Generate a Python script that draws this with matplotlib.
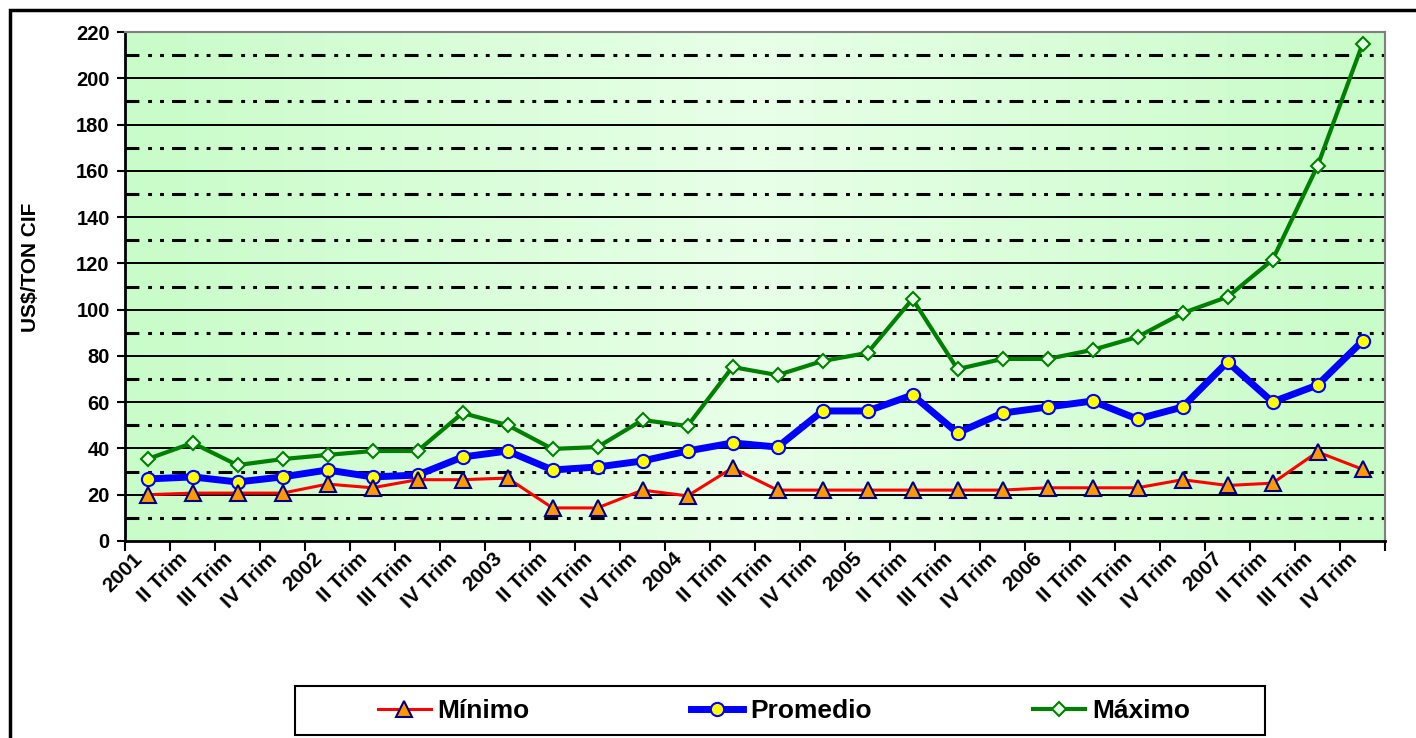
import matplotlib
matplotlib.use("Agg")
import matplotlib.pyplot as plt
import matplotlib.transforms as mtransforms
from matplotlib.patches import Rectangle
from matplotlib.colors import LinearSegmentedColormap
import numpy as np

plt.rcParams['font.family'] = ['Liberation Sans', 'DejaVu Sans']
plt.rcParams['font.weight'] = 'bold'

categories = ["2001", "II Trim", "III Trim", "IV Trim",
              "2002", "II Trim", "III Trim", "IV Trim",
              "2003", "II Trim", "III Trim", "IV Trim",
              "2004", "II Trim", "III Trim", "IV Trim",
              "2005", "II Trim", "III Trim", "IV Trim",
              "2006", "II Trim", "III Trim", "IV Trim",
              "2007", "II Trim", "III Trim", "IV Trim"]

minimo = [20, 20.7, 20.7, 20.7, 24.6, 23, 26.5, 26.5, 27.2, 14.3, 14.3, 22,
          19.5, 31.6, 22, 22, 22, 22, 22, 22, 23, 23, 23, 26.5,
          24, 25, 38.5, 31]
promedio = [26.8, 27.7, 25.5, 27.7, 30.7, 27.7, 28.5, 36.3, 38.9, 30.7, 32.0, 34.6,
            38.9, 42.4, 40.6, 56.2, 56.2, 63.1, 46.7, 55.3, 57.9, 60.5, 52.7, 57.9,
            77.4, 60.1, 67.4, 86.4]
maximo = [35.4, 42.4, 32.8, 35.4, 37.2, 38.9, 38.9, 55.3, 50.1, 39.8, 40.6, 52.3,
          49.7, 75.2, 71.7, 77.8, 81.3, 104.6, 74.3, 78.7, 78.7, 82.6, 88.2, 98.5,
          105.5, 121.5, 162.1, 214.8]

series_names = ["Mínimo", "Promedio", "Máximo"]
y_label = "US$/TON CIF"

W, H = 1416, 738
fig = plt.figure(figsize=(W / 100, H / 100), dpi=100)
fig.patch.set_facecolor('white')

# outer chart border (clipped on right/bottom like reference)
fig.add_artist(Rectangle((10 / W, -0.05), 1.2, (H - 10) / H + 0.05,
                         transform=fig.transFigure, fill=False,
                         edgecolor='black', linewidth=2.5, zorder=0))

ax = fig.add_axes([125 / W, (H - 541) / H, (1385 - 125) / W, (541 - 32) / H])

n = len(categories)
x = np.arange(n)
ax.set_xlim(-0.5, n - 0.5)
ax.set_ylim(0, 220)

# gradient background: green edges, lighter center
cmap = LinearSegmentedColormap.from_list('g', ['#c8fcc8', '#e8ffe8', '#c8fcc8'])
grad = np.linspace(0, 1, 256).reshape(1, -1)
ax.imshow(grad, extent=[-0.5, n - 0.5, 0, 220], aspect='auto', cmap=cmap,
          zorder=0, interpolation='bicubic')

# gridlines
for v in range(20, 221, 20):
    ax.axhline(v, color='black', linewidth=1.4, zorder=1)
for v in range(10, 220, 20):
    ax.axhline(v, color='black', linewidth=2.2, zorder=1,
               linestyle=(0, (10.0 / 2.2, 6.3 / 2.2, 2.8 / 2.2, 5.8 / 2.2, 2.8 / 2.2, 5.8 / 2.2)))

ax.plot(x, minimo, color='#ff0000', linewidth=2.2, marker='^', markersize=12,
        markerfacecolor='#ff9900', markeredgecolor='#000080', markeredgewidth=1.5,
        zorder=4, label=series_names[0])
ax.plot(x, promedio, color='#0000ff', linewidth=5.0, marker='o', markersize=9.5,
        markerfacecolor='#ffff00', markeredgecolor='#0000ff', markeredgewidth=1.5,
        zorder=3, label=series_names[1])
ax.plot(x, maximo, color='#008000', linewidth=3.0, marker='D', markersize=7.5,
        markerfacecolor='#e6ffe6', markeredgecolor='#008000', markeredgewidth=1.5,
        zorder=2, label=series_names[2])

# axes styling
for s in ['top', 'right']:
    ax.spines[s].set_color('#808080')
    ax.spines[s].set_linewidth(1.5)
for s in ['left', 'bottom']:
    ax.spines[s].set_color('black')
    ax.spines[s].set_linewidth(2.0)

ax.set_yticks(range(0, 221, 20))
ax.tick_params(axis='y', direction='out', length=6, width=1.5, labelsize=14.5, pad=5)
ax.set_xticks(np.arange(-0.5, n, 1.0))
ax.set_xticklabels([])
ax.tick_params(axis='x', direction='out', length=7, width=1.5)
for lab in ax.get_yticklabels():
    lab.set_fontweight('bold')

off = mtransforms.ScaledTranslation(-15 / 100, -8 / 100, fig.dpi_scale_trans)
for i, c in enumerate(categories):
    ax.text(i, 0, c, transform=ax.get_xaxis_transform() + off,
            rotation=45, ha='right', va='top', rotation_mode='anchor',
            fontsize=15, fontweight='bold')

fig.text(31 / W, (H - 267) / H, y_label, rotation=90, ha='center', va='center',
         fontsize=15, fontweight='bold')

# legend frame
fig.add_artist(Rectangle((295 / W, (H - 735) / H), 970 / W, 49 / H,
                         transform=fig.transFigure, fill=True, facecolor='white',
                         edgecolor='black', linewidth=1.5, zorder=1))
leg = fig.legend(loc='center', bbox_to_anchor=(784 / W, (H - 711) / H),
                 ncol=3, frameon=False, prop={'weight': 'bold', 'size': 19},
                 handlelength=2.0, handletextpad=0.25, columnspacing=6.1,
                 borderaxespad=0, borderpad=0)
leg.set_zorder(2)

fig.savefig('out.png', dpi=100, facecolor='white')
